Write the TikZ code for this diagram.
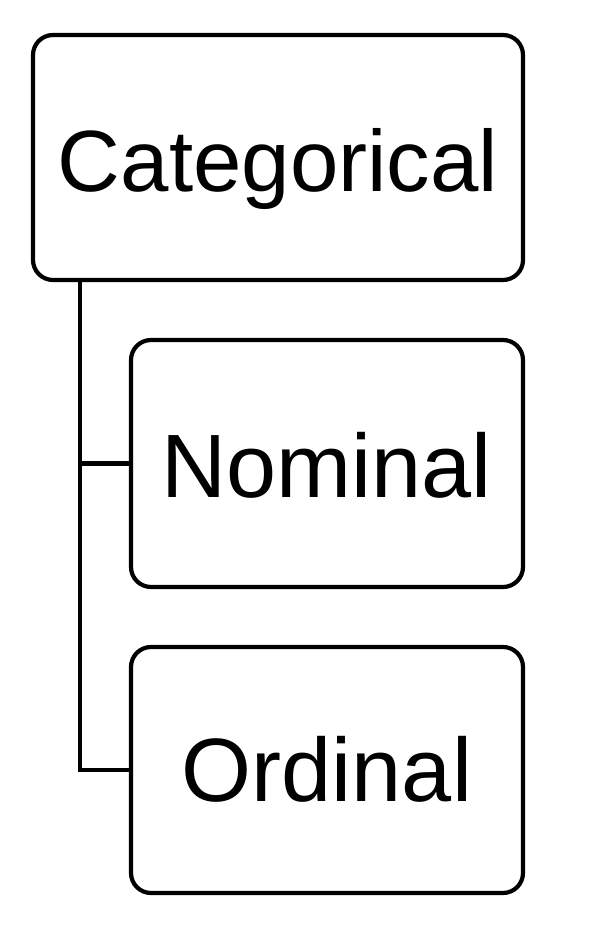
\documentclass[tikz,border=0pt]{standalone}
\usepackage{fontspec}
\setmainfont{Liberation Sans}
\begin{document}
\begin{tikzpicture}[x=1pt,y=1pt,
  box/.style={draw=black, line width=4.2pt, rounded corners=20pt, fill=white,
    inner sep=0pt, text=black, text depth=0pt},
  conn/.style={draw=black, line width=4.2pt}]
\useasboundingbox (0,0) rectangle (614,932);
\node[box, minimum width=490pt, minimum height=245pt, font=\fontsize{87}{100}\selectfont,
  text height=69pt] (cat) at (278,774.5) {Categorical};
\node[box, minimum width=392pt, minimum height=247pt, font=\fontsize{90}{100}\selectfont,
  text height=69pt] (nom) at (327,468.5) {Nominal};
\node[box, minimum width=392pt, minimum height=246pt, font=\fontsize{90}{100}\selectfont,
  text height=63pt] (ord) at (327,162) {Ordinal};
\coordinate (trunk) at ([xshift=49pt]cat.south west);
\draw[conn] (trunk) |- (nom.west);
\draw[conn] (trunk) |- (ord.west);
\end{tikzpicture}
\end{document}
